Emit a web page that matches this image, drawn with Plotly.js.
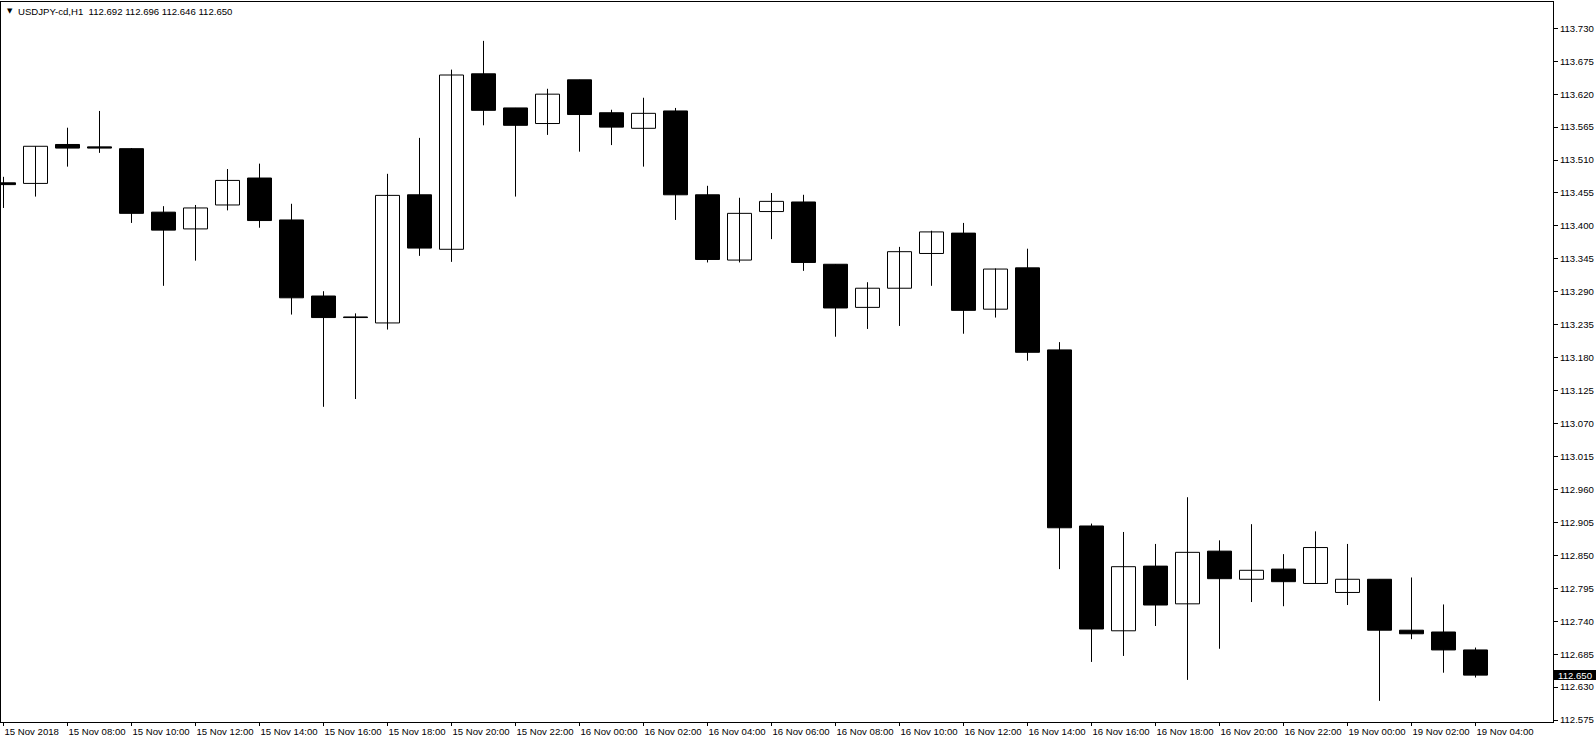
<!DOCTYPE html>
<html><head><meta charset="utf-8">
<script src="https://cdn.plot.ly/plotly-3.0.1.min.js"></script>
<style>html,body{margin:0;padding:0;background:#fff;overflow:hidden}#chart{width:1596px;height:744px}</style>
</head><body><div id="chart"></div>
<script>
const symbol = "USDJPY-cd,H1";
const times = [
  "15 Nov 06:00","15 Nov 07:00","15 Nov 08:00","15 Nov 09:00","15 Nov 10:00","15 Nov 11:00",
  "15 Nov 12:00","15 Nov 13:00","15 Nov 14:00","15 Nov 15:00","15 Nov 16:00","15 Nov 17:00",
  "15 Nov 18:00","15 Nov 19:00","15 Nov 20:00","15 Nov 21:00","15 Nov 22:00","15 Nov 23:00",
  "16 Nov 00:00","16 Nov 01:00","16 Nov 02:00","16 Nov 03:00","16 Nov 04:00","16 Nov 05:00",
  "16 Nov 06:00","16 Nov 07:00","16 Nov 08:00","16 Nov 09:00","16 Nov 10:00","16 Nov 11:00",
  "16 Nov 12:00","16 Nov 13:00","16 Nov 14:00","16 Nov 15:00","16 Nov 16:00","16 Nov 17:00",
  "16 Nov 18:00","16 Nov 19:00","16 Nov 20:00","16 Nov 21:00","16 Nov 22:00","16 Nov 23:00",
  "19 Nov 00:00","19 Nov 01:00","19 Nov 02:00","19 Nov 03:00","19 Nov 04:00"
];
const open  = [113.472,113.471,113.536,113.532,113.529,113.423,113.395,113.435,113.480,113.410,
               113.283,113.248,113.238,113.452,113.361,113.654,113.597,113.571,113.644,113.589,
               113.563,113.592,113.452,113.343,113.424,113.440,113.336,113.264,113.296,113.354,
               113.388,113.261,113.330,113.193,112.899,112.724,112.832,112.769,112.857,112.810,
               112.827,112.803,112.788,112.810,112.725,112.722,112.692];
const high  = [113.482,113.533,113.564,113.592,113.530,113.433,113.435,113.495,113.504,113.437,
               113.291,113.254,113.487,113.547,113.661,113.709,113.597,113.629,113.644,113.594,
               113.614,113.597,113.467,113.447,113.455,113.452,113.336,113.306,113.365,113.392,
               113.405,113.329,113.362,113.206,112.903,112.889,112.869,112.947,112.875,112.902,
               112.852,112.890,112.869,112.810,112.813,112.768,112.696];
const low   = [113.430,113.449,113.499,113.522,113.405,113.300,113.342,113.426,113.397,113.252,
               113.098,113.111,113.227,113.350,113.340,113.568,113.449,113.552,113.524,113.535,
               113.499,113.410,113.339,113.339,113.378,113.325,113.215,113.228,113.233,113.300,
               113.220,113.247,113.175,112.827,112.672,112.682,112.732,112.642,112.694,112.772,
               112.765,112.803,112.767,112.607,112.710,112.654,112.646];
const close = [113.469,113.533,113.530,113.530,113.421,113.393,113.430,113.476,113.409,113.280,
               113.247,113.247,113.451,113.363,113.652,113.593,113.568,113.620,113.586,113.565,
               113.588,113.452,113.344,113.421,113.441,113.339,113.263,113.296,113.357,113.390,
               113.259,113.328,113.189,112.896,112.727,112.831,112.767,112.855,112.811,112.825,
               112.806,112.863,112.810,112.725,112.719,112.692,112.650];
const xTickIndex = [0,2,4,6,8,10,12,14,16,18,20,22,24,26,28,30,32,34,36,38,40,42,44,46];
const xTickText = ["15 Nov 2018","15 Nov 08:00","15 Nov 10:00","15 Nov 12:00","15 Nov 14:00",
  "15 Nov 16:00","15 Nov 18:00","15 Nov 20:00","15 Nov 22:00","16 Nov 00:00","16 Nov 02:00",
  "16 Nov 04:00","16 Nov 06:00","16 Nov 08:00","16 Nov 10:00","16 Nov 12:00","16 Nov 14:00",
  "16 Nov 16:00","16 Nov 18:00","16 Nov 20:00","16 Nov 22:00","19 Nov 00:00","19 Nov 02:00",
  "19 Nov 04:00"];
const yTickVals = [113.730,113.675,113.620,113.565,113.510,113.455,113.400,113.345,113.290,113.235,
  113.180,113.125,113.070,113.015,112.960,112.905,112.850,112.795,112.740,112.685,112.630,112.575];
const yTickText = ["113.730","113.675","113.620","113.565","113.510","113.455","113.400","113.345",
  "113.290","113.235","113.180","113.125","113.070","113.015","112.960","112.905","112.850",
  "112.795","112.740","112.685","112.630","112.575"];

const FONT = "'Liberation Sans', Arial, sans-serif";
const idx = open.map((_, i) => i);
const wx = [], wy = [];
idx.forEach(i => { wx.push(i, i, null); wy.push(low[i], high[i], null); });
const base = idx.map(i => Math.min(open[i], close[i]));
const body = idx.map(i => Math.abs(close[i] - open[i]));
const fill = idx.map(i => close[i] >= open[i] ? '#ffffff' : '#000000');

const wicks = {
  type: 'scatter', mode: 'lines', x: wx, y: wy,
  line: {color: '#000000', width: 1}, hoverinfo: 'skip', showlegend: false
};
const bodies = {
  type: 'bar', x: idx, y: body, base: base, width: 0.75,
  marker: {color: fill, line: {color: '#000000', width: 1}},
  hovertext: times, hoverinfo: 'text', showlegend: false
};

const last = open.length - 1;
const header = symbol + "  " + [open[last], high[last], low[last], close[last]].map(v => v.toFixed(3)).join(" ");

const layout = {
  width: 1596, height: 744,
  margin: {l: 1, r: 43, t: 2, b: 22, pad: 0},
  paper_bgcolor: '#ffffff', plot_bgcolor: '#ffffff',
  showlegend: false, bargap: 0,
  font: {family: FONT, size: 9.6, color: '#000000'},
  xaxis: {
    range: [-0.078125, 48.421875], showgrid: false, zeroline: false,
    showline: true, mirror: true, linecolor: '#000000', linewidth: 1,
    ticks: 'outside', ticklen: 3, tickwidth: 1, tickcolor: '#000000',
    tickvals: xTickIndex, ticktext: xTickText, ticklabelposition: 'outside right',
    tickangle: 0, automargin: false,
    tickfont: {family: FONT, size: 9.6, color: '#000000'}, fixedrange: true
  },
  yaxis: {
    side: 'right', range: [112.5717, 113.7739], showgrid: false, zeroline: false,
    showline: true, mirror: true, linecolor: '#000000', linewidth: 1,
    ticks: 'outside', ticklen: 4, tickwidth: 1, tickcolor: '#000000',
    tickvals: yTickVals, ticktext: yTickText, automargin: false,
    tickfont: {family: FONT, size: 9.6, color: '#000000'}, fixedrange: true
  },
  annotations: [
    {xref: 'paper', yref: 'paper', x: 0, y: 1, xanchor: 'left', yanchor: 'middle',
     xshift: 4, yshift: -9, text: '▼', showarrow: false,
     font: {family: 'DejaVu Sans', size: 7, color: '#000000'}},
    {xref: 'paper', yref: 'paper', x: 0, y: 1, xanchor: 'left', yanchor: 'middle',
     xshift: 15, yshift: -9, text: header, showarrow: false,
     font: {family: FONT, size: 9.6, color: '#000000'}},
    {xref: 'paper', yref: 'y', x: 1, y: close[last], xanchor: 'left', yanchor: 'middle',
     xshift: 1, text: close[last].toFixed(3), showarrow: false, bgcolor: '#000000',
     borderpad: 0, borderwidth: 0, width: 42, height: 10, align: 'center',
     font: {family: FONT, size: 9.6, color: '#ffffff'}}
  ]
};

Plotly.newPlot('chart', [wicks, bodies], layout, {displayModeBar: false, staticPlot: true});
</script>
</body></html>
